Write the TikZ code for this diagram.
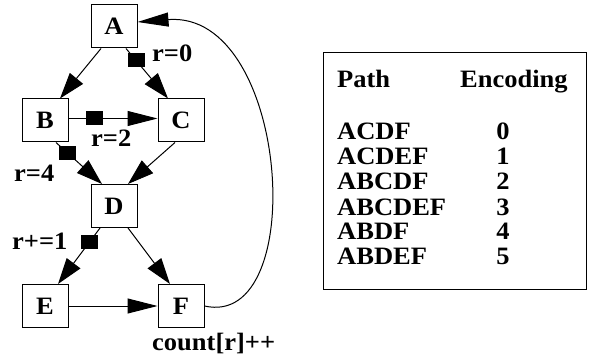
\documentclass[tikz,border=0pt]{standalone}
\usepackage{fontspec}
\setmainfont{Liberation Serif}
\newfontfamily\wfont{Liberation Serif}[FakeStretch=1.06]
\usetikzlibrary{arrows.meta}
\newcommand{\txtfont}{\wfont\bfseries\fontsize{25}{25}\selectfont}
\begin{document}
\begin{tikzpicture}[x=1pt,y=-1pt,
  vbox/.style={draw, line width=1pt, minimum width=46pt, minimum height=43pt, inner sep=0pt, font=\txtfont},
  lab/.style={inner sep=0pt, anchor=base west, font=\txtfont},
  dig/.style={inner sep=0pt, anchor=base, font=\txtfont},
  edge/.style={line width=1pt, -{Triangle[length=26pt,width=17pt]}},
  hedge/.style={line width=1pt, -{Triangle[length=30pt,width=15pt]}},
  sqmark/.style={fill=black, minimum width=17pt, minimum height=14pt, inner sep=0pt, outer sep=0pt}
]
\fill[white] (0,0) rectangle (589,358);
\useasboundingbox (0,0) rectangle (589,358);

% graph nodes
\node[vbox] (A) at (114,26.5) {A};
\node[vbox] (B) at (45,120.5) {B};
\node[vbox] (C) at (181,120.5) {C};
\node[vbox] (D) at (114,206) {D};
\node[vbox] (E) at (45,306) {E};
\node[vbox] (F) at (181,306) {F};

% edges
\draw[edge] ([xshift=-13pt]A.south) -- ([xshift=15pt]B.north);
\draw[edge] ([xshift=12pt]A.south) -- node[sqmark,pos=0.24] (mAC) {} ([xshift=-13pt]C.north);
\draw[hedge] ([yshift=2pt]B.east) -- node[sqmark,pos=0.29] (mBC) {} ([yshift=2pt]C.west);
\draw[edge] ([xshift=11pt]B.south) -- node[sqmark,pos=0.26] (mBD) {} ([xshift=-12pt]D.north);
\draw[edge] ([xshift=-6pt]C.south) -- ([xshift=14pt]D.north);
\draw[edge] ([xshift=-14pt]D.south) -- node[sqmark,pos=0.245] (mDE) {} ([xshift=13pt]E.north);
\draw[edge] ([xshift=14pt]D.south) -- ([xshift=-11pt]F.north);
\draw[hedge] (E.east) -- (F.west);
\draw[line width=1pt, -{Triangle[length=31pt,width=14pt]}] (F.east) .. controls (310,330) and (290,10) .. ([yshift=4.5pt]A.east);

% edge labels
\node[lab] (l0) at (152,62) {r=0};
\node[lab] (l2) at (91,147) {r=2};
\node[lab] (l4) at (14,182) {r=4};
\node[lab] (l1) at (12,250) {r+=1};
\node[lab] (lc) at (152,350) {count[r]++};

% table
\node[draw, line width=1pt, minimum width=263pt, minimum height=237pt, inner sep=0pt, anchor=north west] (tbl) at (323,52) {};
\node[lab] (hp) at (337,88) {Path};
\node[lab] (he) at (460,88) {Encoding};
\node[lab] (p0) at (337,140) {ACDF};
\node[lab] (p1) at (337,165) {ACDEF};
\node[lab] (p2) at (337,190) {ABCDF};
\node[lab] (p3) at (337,215) {ABCDEF};
\node[lab] (p4) at (337,240) {ABDF};
\node[lab] (p5) at (337,265) {ABDEF};
\node[dig] (e0) at (503,140) {0};
\node[dig] (e1) at (503,165) {1};
\node[dig] (e2) at (503,190) {2};
\node[dig] (e3) at (503,215) {3};
\node[dig] (e4) at (503,240) {4};
\node[dig] (e5) at (503,265) {5};
\end{tikzpicture}
\end{document}
